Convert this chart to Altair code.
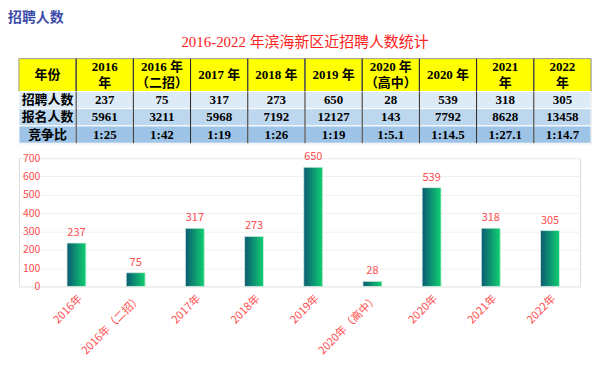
import altair as alt
import pandas as pd

# ---------------- data ----------------
col_headers = ["年份", "2016\n年", "2016 年\n（二招）", "2017 年", "2018 年", "2019 年",
               "2020 年\n（高中）", "2020 年", "2021\n年", "2022\n年"]
row_names = ["招聘人数", "报名人数", "竞争比"]
recruit = [237, 75, 317, 273, 650, 28, 539, 318, 305]
applicants = [5961, 3211, 5968, 7192, 12127, 143, 7792, 8628, 13458]
ratios = ["1:25", "1:42", "1:19", "1:26", "1:19", "1:5.1", "1:14.5", "1:27.1", "1:14.7"]
bar_labels = ["2016年", "2016年（二招）", "2017年", "2018年", "2019年",
              "2020年（高中）", "2020年", "2021年", "2022年"]
row_fills = ["#ddebf7", "#bdd7ee", "#9dc3e6"]
y_ticks = [0, 100, 200, 300, 400, 500, 600, 700]

SERIF = "Liberation Serif, Noto Sans CJK SC"
SANS = "Noto Sans CJK SC"
RED = "#ff4d4d"

# ---------------- table ----------------
keys = [f"c{i}" for i in range(len(col_headers))]
line1 = [h.split("\n")[0] for h in col_headers]
line2 = [h.split("\n")[1] if "\n" in h else "" for h in col_headers]
nlines = [2 if "\n" in h else 1 for h in col_headers]
hdr_df = pd.DataFrame({"key": keys, "l1": line1, "l2": line2, "n": nlines})

xs = alt.X("key:N", sort=keys, axis=None, scale=alt.Scale(paddingInner=0, paddingOuter=0))
txt_style = dict(font=SERIF, fontSize=13, fontWeight="bold", color="#000000")

hdr_base = alt.Chart(hdr_df)
hdr_rect = hdr_base.mark_rect(fill="#ffff00", stroke="#9a9a9a", strokeWidth=1).encode(x=xs)
hdr_single = hdr_base.transform_filter("datum.n == 1").mark_text(**txt_style).encode(
    x=xs, text="l1:N")
hdr_top = hdr_base.transform_filter("datum.n == 2").mark_text(dy=-8, **txt_style).encode(
    x=xs, text="l1:N")
hdr_bot = hdr_base.transform_filter("datum.n == 2").mark_text(dy=8, **txt_style).encode(
    x=xs, text="l2:N")
hdr_rules = alt.Chart(pd.DataFrame({"key": keys[1:]})).mark_rule(color="#222222", strokeWidth=1).encode(
    x=alt.X("key:N", sort=keys, axis=None, bandPosition=0,
            scale=alt.Scale(paddingInner=0, paddingOuter=0)))
header = alt.layer(hdr_rect, hdr_single, hdr_top, hdr_bot, hdr_rules).properties(
    width=575, height=33,
    title=alt.TitleParams("2016-2022 年滨海新区近招聘人数统计", color="#ff2020", font=SERIF,
                          fontSize=15, fontWeight="normal", anchor="middle", offset=8))

body_rows = []
for r, name in enumerate(row_names):
    vals = [recruit, applicants, ratios][r]
    body_rows.append({"key": keys[0], "row": name, "text": name, "fill": row_fills[r]})
    for i, v in enumerate(vals):
        body_rows.append({"key": keys[i + 1], "row": name, "text": str(v), "fill": row_fills[r]})
body_df = pd.DataFrame(body_rows)
ys = alt.Y("row:N", sort=row_names, axis=None, scale=alt.Scale(paddingInner=0, paddingOuter=0))
body_base = alt.Chart(body_df)
body_rect = body_base.mark_rect(stroke="#ffffff", strokeWidth=1).encode(
    x=xs, y=ys, fill=alt.Fill("fill:N", scale=None))
body_text = body_base.mark_text(**txt_style).encode(x=xs, y=ys, text="text:N")
body_rules = alt.Chart(pd.DataFrame({"key": keys[1:]})).mark_rule(color="#222222", strokeWidth=1).encode(
    x=alt.X("key:N", sort=keys, axis=None, bandPosition=0,
            scale=alt.Scale(paddingInner=0, paddingOuter=0)))
body = alt.layer(body_rect, body_text, body_rules).properties(width=575, height=52)

table = alt.vconcat(header, body, spacing=0, bounds="flush")

# ---------------- bar chart ----------------
bar_df = pd.DataFrame({"cat": bar_labels, "value": recruit})
bx = alt.X("cat:N", sort=bar_labels,
           scale=alt.Scale(paddingInner=0.68, paddingOuter=0.58, align=0.70),
           axis=alt.Axis(title=None, labelAngle=315, labelColor=RED, labelFont=SANS,
                         labelFontSize=11, ticks=False, domain=False, labelPadding=6))
by = alt.Y("value:Q", scale=alt.Scale(domain=[0, 700]),
           axis=alt.Axis(title=None, values=y_ticks, labelColor=RED, labelFont=SANS,
                         labelFontSize=10.5, ticks=False, domain=False, labelPadding=7,
                         offset=-28, minExtent=0, maxExtent=0,
                         gridColor="#f0f0f0", gridWidth=1))
grad = alt.Gradient(gradient="linear", x1=0, y1=0, x2=1, y2=0,
                    stops=[alt.GradientStop(offset=0, color="#0b5a73"),
                           alt.GradientStop(offset=1, color="#10d070")])
bars = alt.Chart(bar_df).mark_bar(color=grad, stroke="#d5efe2", strokeWidth=0.8).encode(x=bx, y=by)
bar_text = alt.Chart(bar_df).mark_text(baseline="bottom", dy=-5, color=RED, font=SANS,
                                       fontSize=11).encode(x=bx, y=by, text="value:Q")
barchart = alt.layer(bars, bar_text).properties(width=564, height=129)

chart = alt.vconcat(table, barchart, spacing=6).properties(
    title=alt.TitleParams("招聘人数", anchor="start", color="#3a4aa8", font=SANS, fontSize=14,
                          fontWeight="bold", dx=-10, offset=10),
    padding={"left": 0, "top": 2, "right": 0, "bottom": 0},
).configure_view(stroke=None).configure(background="#ffffff")

chart.save("out.html", embed_options={"renderer": "svg", "actions": False})
